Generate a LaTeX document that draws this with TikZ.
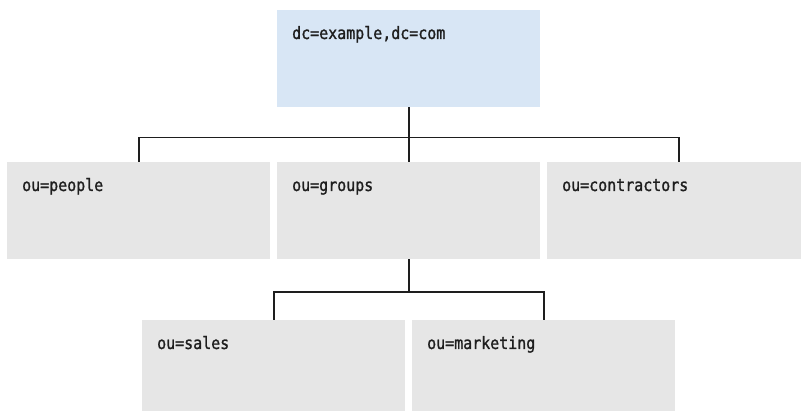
\documentclass[tikz,border=0pt]{standalone}
\usepackage{fontspec}
\setmonofont[FakeBold=1.3,FakeStretch=0.88]{DejaVu Sans Mono}
\definecolor{rootfill}{HTML}{D8E6F5}
\definecolor{oufill}{HTML}{E6E6E6}
\definecolor{ink}{HTML}{1E1E1E}
\begin{document}
\begin{tikzpicture}[x=1pt,y=-1pt,
  entry/.style={fill=oufill,draw=none,inner sep=0pt,minimum width=263pt,minimum height=97pt,anchor=north west},
  rootentry/.style={entry,fill=rootfill},
  dn/.style={anchor=base west,inner sep=0pt,text=ink,font=\ttfamily\fontsize{17}{20}\selectfont},
  link/.style={draw=ink,line width=1.7pt}]
\useasboundingbox (0,0) rectangle (801,411);
\clip (0,0) rectangle (801,411);
% directory entries
\node[rootentry] (root) at (277,10) {};
\node[entry] (people) at (7,162) {};
\node[entry] (groups) at (277,162) {};
\node[entry] (contractors) at (547,162) {};
\node[entry] (sales) at (142,320) {};
\node[entry] (marketing) at (412,320) {};
% entry names
\node[dn] (rootname) at ([shift={(15,29)}]root.north west) {dc=example,dc=com};
\node[dn] (peoplename) at ([shift={(15,29)}]people.north west) {ou=people};
\node[dn] (groupsname) at ([shift={(15,29)}]groups.north west) {ou=groups};
\node[dn] (contractorsname) at ([shift={(15,29)}]contractors.north west) {ou=contractors};
\node[dn] (salesname) at ([shift={(15,29)}]sales.north west) {ou=sales};
\node[dn] (marketingname) at ([shift={(15,29)}]marketing.north west) {ou=marketing};
% tree connectors
\coordinate (bus1) at (0,137.5);
\coordinate (bus2) at (0,292);
\draw[link] (root.south) -- (root.south |- bus1);
\draw[link] (people.north) |- (contractors.north |- bus1) -- (contractors.north);
\draw[link] (groups.north) -- (groups.north |- bus1);
\draw[link] (groups.south) -- (groups.south |- bus2);
\draw[link] (sales.north) |- (marketing.north |- bus2) -- (marketing.north);
\end{tikzpicture}
\end{document}
